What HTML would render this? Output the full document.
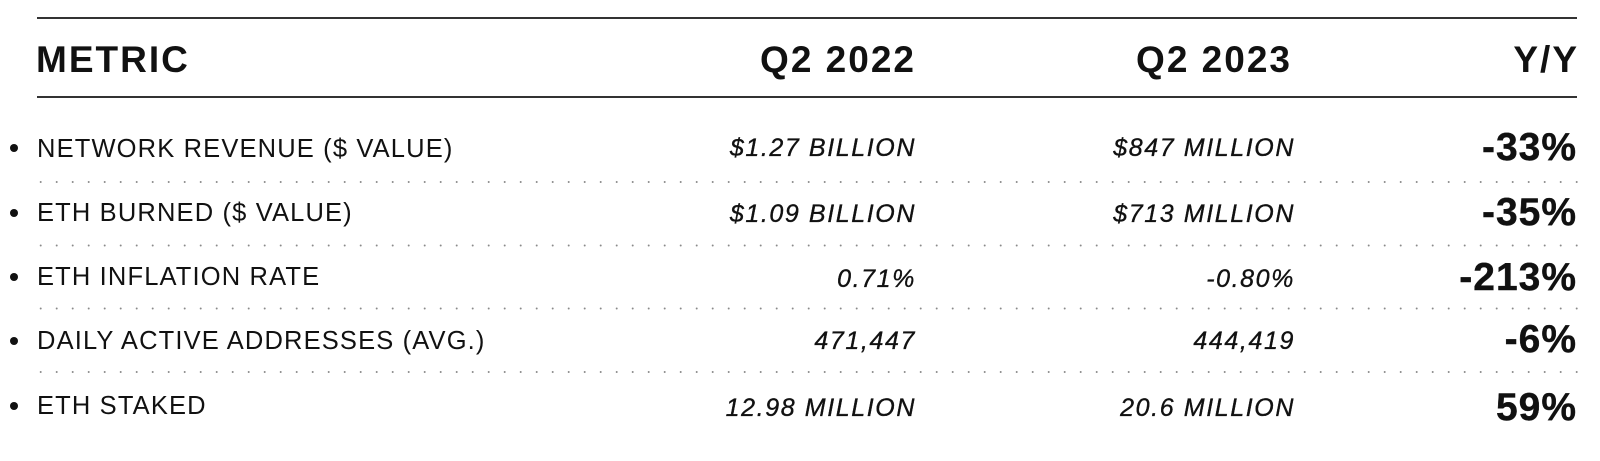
<!DOCTYPE html>
<html>
<head>
<meta charset="utf-8">
<style>
  html, body { margin:0; padding:0; background:#fff; }
  body { width:1600px; height:461px; position:relative; overflow:hidden; font-family:"Liberation Sans", sans-serif; color:#111; }
  .t { position:absolute; line-height:1; white-space:nowrap; }
  .h { font-size:37px; font-weight:bold; letter-spacing:2px; height:37px; }
  .lab { font-size:25.5px; letter-spacing:1.15px; height:26px; left:37px; }
  .val { font-size:25px; font-style:italic; letter-spacing:1.6px; -webkit-text-stroke:0.35px #111; text-align:right; height:25px; }
  .yy { font-size:39px; font-weight:bold; letter-spacing:1px; text-align:right; height:39px; -webkit-text-stroke:0.4px #111; }
  .b { position:absolute; width:8px; height:8px; border-radius:50%; background:#111; left:10px; }
  svg { position:absolute; left:0; top:0; }
</style>
</head>
<body>
<svg width="1600" height="461">
  <line x1="37" y1="18" x2="1577" y2="18" stroke="#333" stroke-width="2"/>
  <line x1="37" y1="97" x2="1577" y2="97" stroke="#333" stroke-width="2"/>
  <g stroke="#8a8a8a" stroke-width="2" stroke-linecap="round" stroke-dasharray="0 16">
    <line x1="40.7" y1="182" x2="1578" y2="182"/>
    <line x1="40.7" y1="245.5" x2="1578" y2="245.5"/>
    <line x1="40.7" y1="308.5" x2="1578" y2="308.5"/>
    <line x1="40.7" y1="372" x2="1578" y2="372"/>
  </g>
</svg>

<div class="t h" style="left:36px; top:40.5px;">METRIC</div>
<div class="t h" style="right:684px; top:40.5px; text-align:right;">Q2 2022</div>
<div class="t h" style="right:308px; top:40.5px; text-align:right;">Q2 2023</div>
<div class="t h" style="right:21px; top:40.5px; text-align:right;">Y/Y</div>

<div class="b" style="top:144px;"></div>
<div class="b" style="top:209px;"></div>
<div class="b" style="top:273px;"></div>
<div class="b" style="top:337px;"></div>
<div class="b" style="top:402px;"></div>

<div class="t lab" style="top:137px;">NETWORK REVENUE ($ VALUE)</div>
<div class="t lab" style="top:200.5px;">ETH BURNED ($ VALUE)</div>
<div class="t lab" style="top:265px;">ETH INFLATION RATE</div>
<div class="t lab" style="top:329px;">DAILY ACTIVE ADDRESSES (AVG.)</div>
<div class="t lab" style="top:393.5px;">ETH STAKED</div>

<div class="t val" style="right:684px; top:136px;">$1.27 BILLION</div>
<div class="t val" style="right:684px; top:201.5px;">$1.09 BILLION</div>
<div class="t val" style="right:684px; top:266.5px;">0.71%</div>
<div class="t val" style="right:684px; top:328.5px;">471,447</div>
<div class="t val" style="right:684px; top:395.5px;">12.98 MILLION</div>

<div class="t val" style="right:305px; top:136px;">$847 MILLION</div>
<div class="t val" style="right:305px; top:201.5px;">$713 MILLION</div>
<div class="t val" style="right:305px; top:266.5px;">-0.80%</div>
<div class="t val" style="right:305px; top:328.5px;">444,419</div>
<div class="t val" style="right:305px; top:395.5px;">20.6 MILLION</div>

<div class="t yy" style="right:23px; top:127.5px;">-33%</div>
<div class="t yy" style="right:23px; top:192.5px;">-35%</div>
<div class="t yy" style="right:23px; top:257.5px;">-213%</div>
<div class="t yy" style="right:23px; top:319.5px;">-6%</div>
<div class="t yy" style="right:23px; top:387.5px;">59%</div>
</body>
</html>
